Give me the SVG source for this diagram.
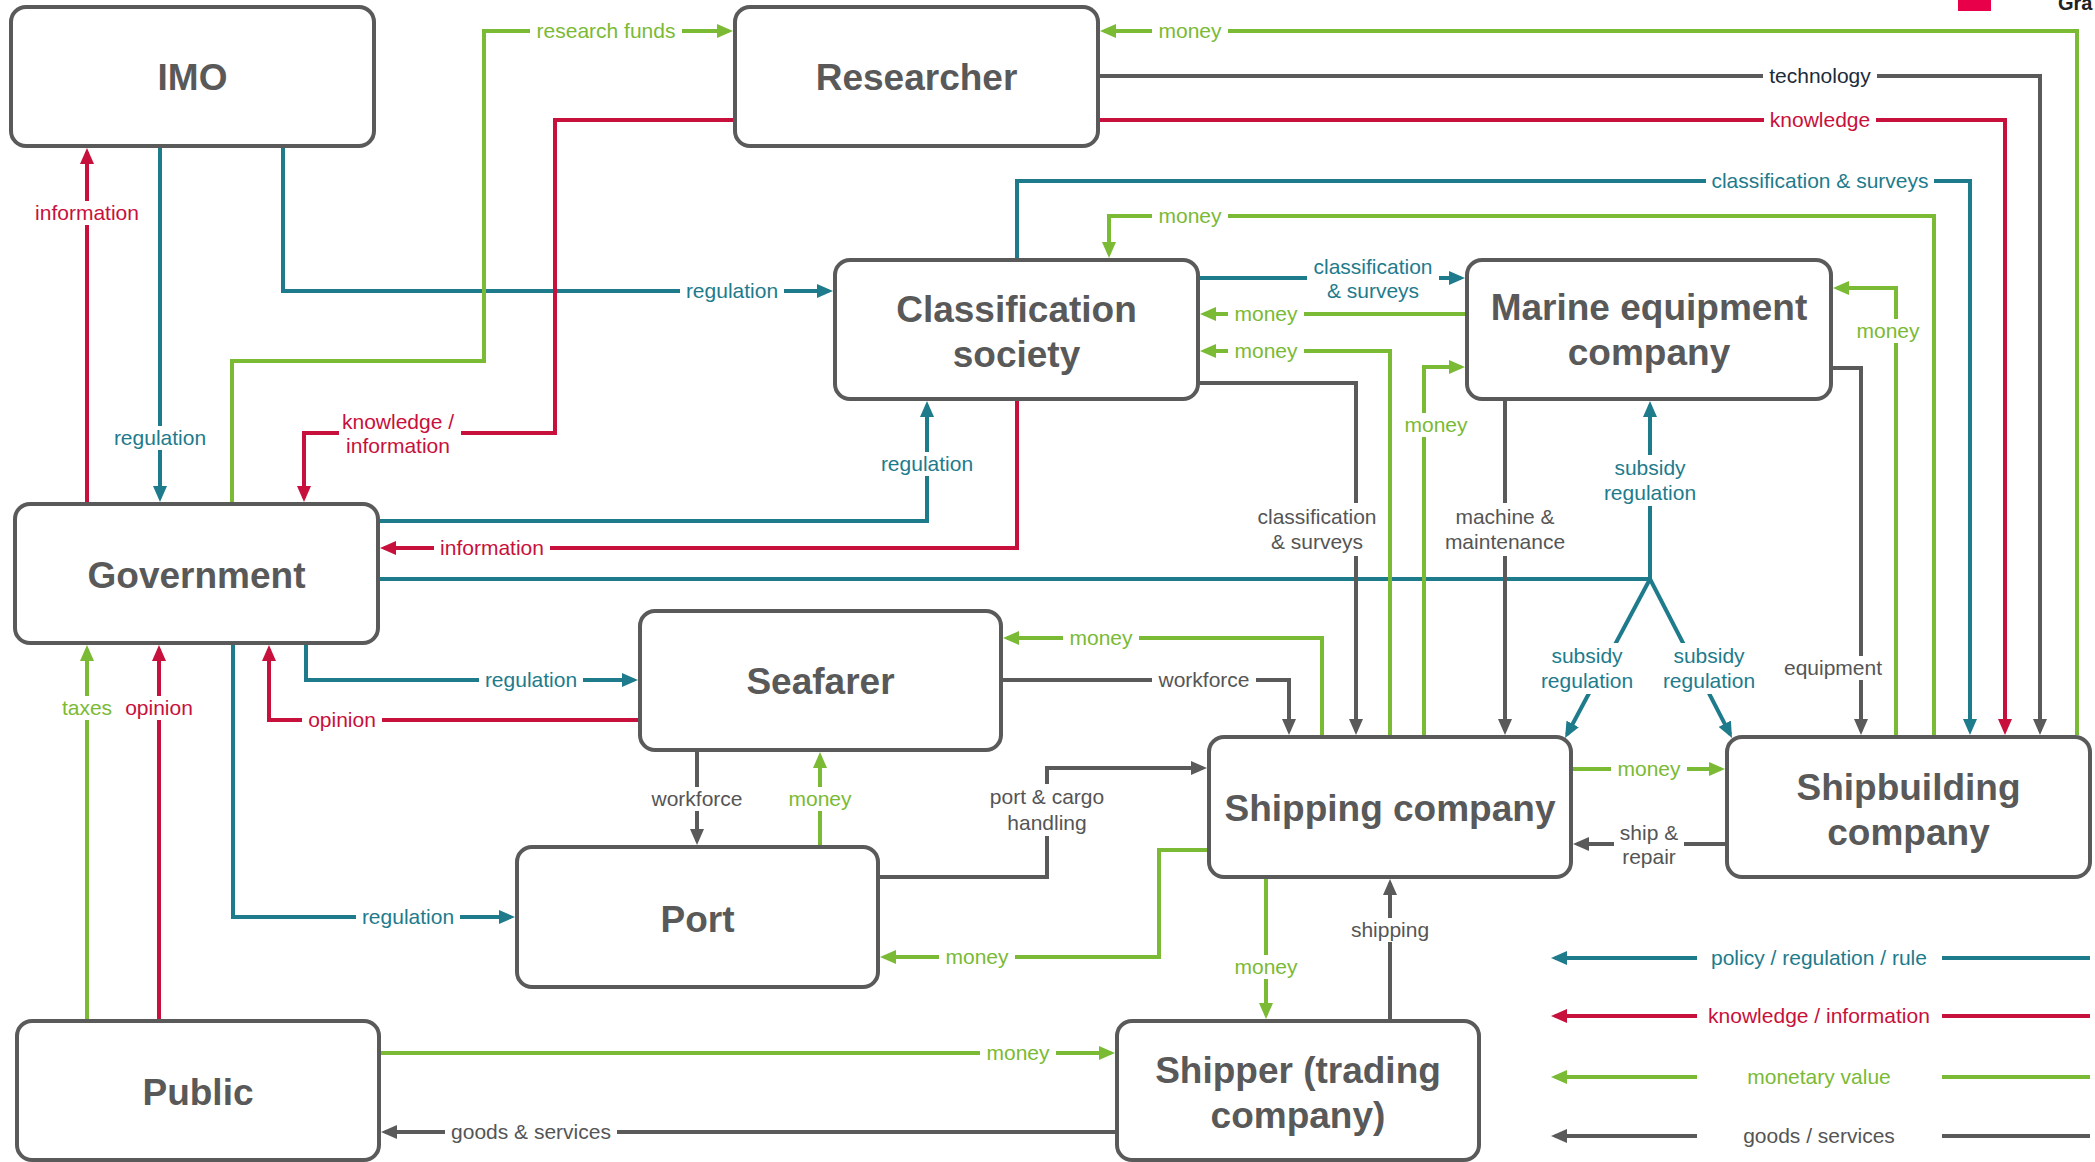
<svg xmlns="http://www.w3.org/2000/svg" width="2095" height="1162" viewBox="0 0 2095 1162">
  <style>
    .node rect { fill: #ffffff; stroke: #5a5a5a; stroke-width: 4; }
    .node text { font-family: "Liberation Sans", Arial, sans-serif; font-weight: bold; font-size: 37px; fill: #595959; text-anchor: middle; }
    .c { fill: none; stroke-width: 4; stroke-linejoin: miter; }
    .teal { stroke: #1e7b8c; }
    .red { stroke: #c8103c; }
    .green { stroke: #7aba34; }
    .gray { stroke: #5a5a5a; }
    .at { marker-end: url(#aT); }
    .ar { marker-end: url(#aR); }
    .ag { marker-end: url(#aG); }
    .ay { marker-end: url(#aY); }
    .bg { fill: #ffffff; }
    .lbl { font-family: "Liberation Sans", Arial, sans-serif; font-size: 21px; text-anchor: middle; }
    .tt { fill: #1e7b8c; }
    .tr { fill: #c8103c; }
    .tg { fill: #7aba34; }
    .ty { fill: #555555; }
    .tk { fill: #1c2b3a; }
  </style>
  <defs>
    <marker id="aT" markerUnits="userSpaceOnUse" markerWidth="16" markerHeight="14" refX="12" refY="7" orient="auto" viewBox="0 0 16 14"><path d="M0,0 L16,7 L0,14 z" fill="#1e7b8c"/></marker>
    <marker id="aR" markerUnits="userSpaceOnUse" markerWidth="16" markerHeight="14" refX="12" refY="7" orient="auto" viewBox="0 0 16 14"><path d="M0,0 L16,7 L0,14 z" fill="#c8103c"/></marker>
    <marker id="aG" markerUnits="userSpaceOnUse" markerWidth="16" markerHeight="14" refX="12" refY="7" orient="auto" viewBox="0 0 16 14"><path d="M0,0 L16,7 L0,14 z" fill="#7aba34"/></marker>
    <marker id="aY" markerUnits="userSpaceOnUse" markerWidth="16" markerHeight="14" refX="12" refY="7" orient="auto" viewBox="0 0 16 14"><path d="M0,0 L16,7 L0,14 z" fill="#5a5a5a"/></marker>
  </defs>

  <rect width="2095" height="1162" fill="#ffffff"/>

  <!-- corner mark -->
  <rect x="1958" y="0" width="33" height="11" fill="#e8004a"/>
  <text x="2058" y="10" font-family="'Liberation Sans', Arial, sans-serif" font-weight="bold" font-size="20" fill="#222222">Gra</text>

  <g id="connectors">
    <!-- policy / regulation -->
    <path class="c teal at" d="M160,148 V498"/>
    <path class="c teal at" d="M283,148 V291 H829"/>
    <path class="c teal at" d="M380,521 H927 V405"/>
    <path class="c teal at" d="M306,645 V680 H634"/>
    <path class="c teal at" d="M233,645 V917 H511"/>
    <path class="c teal at" d="M380,579 H1650 V405"/>
    <path class="c teal at" d="M1650,579 L1567,734.5"/>
    <path class="c teal at" d="M1650,579 L1730.2,734.4"/>
    <path class="c teal at" d="M1200,278 H1461"/>
    <path class="c teal at" d="M1017,258 V181 H1970 V731"/>

    <!-- knowledge / information -->
    <path class="c red ar" d="M87,502 V152"/>
    <path class="c red ar" d="M733,120 H555 V433 H304 V498"/>
    <path class="c red ar" d="M1017,401 V548 H384"/>
    <path class="c red ar" d="M638,720 H269 V649"/>
    <path class="c red ar" d="M159,1019 V649"/>
    <path class="c red ar" d="M1100,120 H2005 V731"/>

    <!-- monetary value -->
    <path class="c green ag" d="M232,502 V361 H484 V31 H729"/>
    <path class="c green ag" d="M2077,735 V31 H1104"/>
    <path class="c green ag" d="M1934,735 V216 H1109 V254"/>
    <path class="c green ag" d="M1465,314 H1204"/>
    <path class="c green ag" d="M1390,735 V351 H1204"/>
    <path class="c green ag" d="M1424,735 V367 H1461"/>
    <path class="c green ag" d="M1896,735 V288 H1837"/>
    <path class="c green ag" d="M1322,735 V638 H1007"/>
    <path class="c green ag" d="M820,845 V756"/>
    <path class="c green ag" d="M1207,850 H1159 V957 H884"/>
    <path class="c green ag" d="M1266,879 V1015"/>
    <path class="c green ag" d="M1573,769 H1721"/>
    <path class="c green ag" d="M87,1019 V649"/>
    <path class="c green ag" d="M381,1053 H1111"/>

    <!-- goods / services -->
    <path class="c gray ay" d="M1100,76 H2040 V731"/>
    <path class="c gray ay" d="M1200,383 H1356 V731"/>
    <path class="c gray ay" d="M1505,401 V731"/>
    <path class="c gray ay" d="M1833,368 H1861 V731"/>
    <path class="c gray ay" d="M697,752 V841"/>
    <path class="c gray ay" d="M1003,680 H1289 V731"/>
    <path class="c gray ay" d="M880,877 H1047 V768 H1203"/>
    <path class="c gray ay" d="M1390,1019 V883"/>
    <path class="c gray ay" d="M1725,844 H1577"/>
    <path class="c gray ay" d="M1115,1132 H385"/>

    <g id="connector-labels" class="lbl">
      <rect class="bg" x="530" y="19" width="152" height="24"/><text class="tg" x="606" y="38">research funds</text>
      <rect class="bg" x="339" y="409" width="122" height="50"/><text class="tr" x="398" y="429">knowledge /</text><text class="tr" x="398" y="453">information</text>
      <rect class="bg" x="108" y="426" width="104" height="24"/><text class="tt" x="160" y="445">regulation</text>
      <rect class="bg" x="29" y="201" width="116" height="24"/><text class="tr" x="87" y="220">information</text>
      <rect class="bg" x="680" y="279" width="104" height="24"/><text class="tt" x="732" y="298">regulation</text>
      <rect class="bg" x="1152" y="19" width="76" height="24"/><text class="tg" x="1190" y="38">money</text>
      <rect class="bg" x="1763" y="64" width="114" height="24"/><text class="tk" x="1820" y="83">technology</text>
      <rect class="bg" x="1764" y="108" width="112" height="24"/><text class="tr" x="1820" y="127">knowledge</text>
      <rect class="bg" x="1706" y="169" width="228" height="24"/><text class="tt" x="1820" y="188">classification &amp; surveys</text>
      <rect class="bg" x="1152" y="204" width="76" height="24"/><text class="tg" x="1190" y="223">money</text>
      <rect class="bg" x="1307" y="254" width="132" height="50"/><text class="tt" x="1373" y="274">classification</text><text class="tt" x="1373" y="298">&amp; surveys</text>
      <rect class="bg" x="1228" y="302" width="76" height="24"/><text class="tg" x="1266" y="321">money</text>
      <rect class="bg" x="1228" y="339" width="76" height="24"/><text class="tg" x="1266" y="358">money</text>
      <rect class="bg" x="1398" y="413" width="76" height="24"/><text class="tg" x="1436" y="432">money</text>
      <rect class="bg" x="875" y="452" width="104" height="24"/><text class="tt" x="927" y="471">regulation</text>
      <rect class="bg" x="434" y="536" width="116" height="24"/><text class="tr" x="492" y="555">information</text>
      <rect class="bg" x="1251" y="503" width="132" height="53"/><text class="ty" x="1317" y="524">classification</text><text class="ty" x="1317" y="549">&amp; surveys</text>
      <rect class="bg" x="1439" y="503" width="132" height="53"/><text class="ty" x="1505" y="524">machine &amp;</text><text class="ty" x="1505" y="549">maintenance</text>
      <rect class="bg" x="1598" y="455" width="104" height="51"/><text class="tt" x="1650" y="475">subsidy</text><text class="tt" x="1650" y="500">regulation</text>
      <rect class="bg" x="1535" y="643" width="104" height="51"/><text class="tt" x="1587" y="663">subsidy</text><text class="tt" x="1587" y="688">regulation</text>
      <rect class="bg" x="1657" y="643" width="104" height="51"/><text class="tt" x="1709" y="663">subsidy</text><text class="tt" x="1709" y="688">regulation</text>
      <rect class="bg" x="1778" y="656" width="110" height="24"/><text class="ty" x="1833" y="675">equipment</text>
      <rect class="bg" x="1850" y="319" width="76" height="24"/><text class="tg" x="1888" y="338">money</text>
      <rect class="bg" x="479" y="668" width="104" height="24"/><text class="tt" x="531" y="687">regulation</text>
      <rect class="bg" x="302" y="708" width="80" height="24"/><text class="tr" x="342" y="727">opinion</text>
      <rect class="bg" x="356" y="905" width="104" height="24"/><text class="tt" x="408" y="924">regulation</text>
      <rect class="bg" x="56" y="696" width="62" height="24"/><text class="tg" x="87" y="715">taxes</text>
      <rect class="bg" x="119" y="696" width="80" height="24"/><text class="tr" x="159" y="715">opinion</text>
      <rect class="bg" x="645" y="787" width="104" height="24"/><text class="ty" x="697" y="806">workforce</text>
      <rect class="bg" x="782" y="787" width="76" height="24"/><text class="tg" x="820" y="806">money</text>
      <rect class="bg" x="1063" y="626" width="76" height="24"/><text class="tg" x="1101" y="645">money</text>
      <rect class="bg" x="1152" y="668" width="104" height="24"/><text class="ty" x="1204" y="687">workforce</text>
      <rect class="bg" x="984" y="784" width="126" height="52"/><text class="ty" x="1047" y="804">port &amp; cargo</text><text class="ty" x="1047" y="830">handling</text>
      <rect class="bg" x="939" y="945" width="76" height="24"/><text class="tg" x="977" y="964">money</text>
      <rect class="bg" x="1228" y="955" width="76" height="24"/><text class="tg" x="1266" y="974">money</text>
      <rect class="bg" x="1345" y="918" width="90" height="24"/><text class="ty" x="1390" y="937">shipping</text>
      <rect class="bg" x="1611" y="757" width="76" height="24"/><text class="tg" x="1649" y="776">money</text>
      <rect class="bg" x="1614" y="820" width="70" height="50"/><text class="ty" x="1649" y="840">ship &amp;</text><text class="ty" x="1649" y="864">repair</text>
      <rect class="bg" x="980" y="1041" width="76" height="24"/><text class="tg" x="1018" y="1060">money</text>
      <rect class="bg" x="445" y="1120" width="172" height="24"/><text class="ty" x="531" y="1139">goods &amp; services</text>
    </g>
  </g>

  <g id="legend">
    <path class="c teal at" d="M1697,958 H1555"/><path class="c teal" d="M1942,958 H2090"/>
    <text class="lbl tt" x="1819" y="965">policy / regulation / rule</text>
    <path class="c red ar" d="M1697,1016 H1555"/><path class="c red" d="M1942,1016 H2090"/>
    <text class="lbl tr" x="1819" y="1023">knowledge / information</text>
    <path class="c green ag" d="M1697,1077 H1555"/><path class="c green" d="M1942,1077 H2090"/>
    <text class="lbl tg" x="1819" y="1084">monetary value</text>
    <path class="c gray ay" d="M1697,1136 H1555"/><path class="c gray" d="M1942,1136 H2090"/>
    <text class="lbl ty" x="1819" y="1143">goods / services</text>
  </g>

  <g id="node-imo" class="node"><rect x="11" y="7" width="363" height="139" rx="15"/><text x="192.5" y="90">IMO</text></g>
  <g id="node-researcher" class="node"><rect x="735" y="7" width="363" height="139" rx="15"/><text x="916.5" y="90">Researcher</text></g>
  <g id="node-classification" class="node"><rect x="835" y="260" width="363" height="139" rx="15"/><text x="1016.5" y="322">Classification</text><text x="1016.5" y="367">society</text></g>
  <g id="node-marine" class="node"><rect x="1467" y="260" width="364" height="139" rx="15"/><text x="1649" y="320">Marine equipment</text><text x="1649" y="365">company</text></g>
  <g id="node-government" class="node"><rect x="15" y="504" width="363" height="139" rx="15"/><text x="196.5" y="588">Government</text></g>
  <g id="node-seafarer" class="node"><rect x="640" y="611" width="361" height="139" rx="15"/><text x="820.5" y="694">Seafarer</text></g>
  <g id="node-port" class="node"><rect x="517" y="847" width="361" height="140" rx="15"/><text x="697.5" y="932">Port</text></g>
  <g id="node-public" class="node"><rect x="17" y="1021" width="362" height="139" rx="15"/><text x="198" y="1105">Public</text></g>
  <g id="node-shipping" class="node"><rect x="1209" y="737" width="362" height="140" rx="15"/><text x="1390" y="821">Shipping company</text></g>
  <g id="node-shipbuilding" class="node"><rect x="1727" y="737" width="363" height="140" rx="15"/><text x="1908.5" y="800">Shipbuilding</text><text x="1908.5" y="845">company</text></g>
  <g id="node-shipper" class="node"><rect x="1117" y="1021" width="362" height="139" rx="15"/><text x="1298" y="1083">Shipper (trading</text><text x="1298" y="1128">company)</text></g>
</svg>
